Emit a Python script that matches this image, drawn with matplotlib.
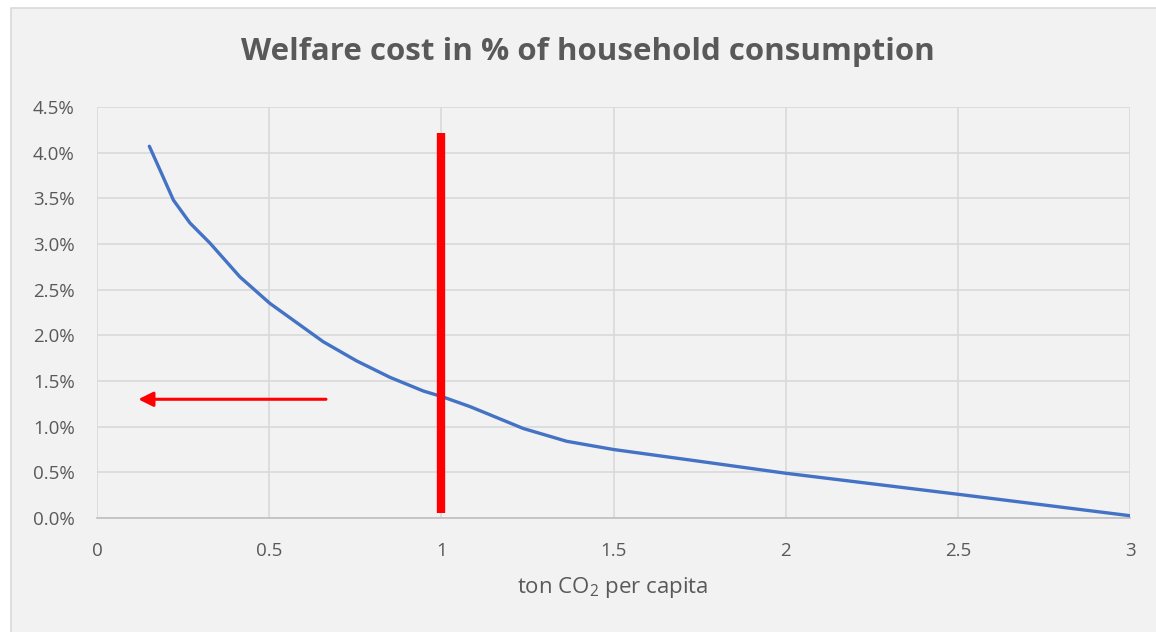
import matplotlib
matplotlib.use("Agg")
import matplotlib.pyplot as plt
from matplotlib.patches import Rectangle
from matplotlib.ticker import FuncFormatter, MultipleLocator

plt.rcParams["font.family"] = ["Open Sans", "DejaVu Sans"]
plt.rcParams["mathtext.fontset"] = "custom"
plt.rcParams["mathtext.rm"] = "Open Sans"

# welfare cost curve (ton CO2 per capita -> % of consumption)
co2 = [0.152, 0.183, 0.222, 0.270, 0.328, 0.415, 0.502, 0.563, 0.657, 0.754,
       0.851, 0.948, 1.001, 1.083, 1.122, 1.238, 1.364, 1.500, 1.751, 2.000,
       2.500, 3.000]
cost = [4.07, 3.81, 3.48, 3.23, 3.01, 2.64, 2.35, 2.185, 1.93, 1.72,
        1.54, 1.39, 1.33, 1.22, 1.16, 0.98, 0.84, 0.75, 0.62, 0.49,
        0.26, 0.025]

target_x = 1.0
target_span = (0.05, 4.22)
arrow_from = (0.665, 1.30)
arrow_to = (0.12, 1.30)

x_ticks = [0, 0.5, 1, 1.5, 2, 2.5, 3]
x_labels = ["0", "0.5", "1", "1.5", "2", "2.5", "3"]

grey_txt = "#595959"
bg = "#f2f2f2"

fig = plt.figure(figsize=(11.56, 6.32), dpi=100, facecolor="white")
frame = Rectangle((11 / 1156, -0.05), 1.1, 1 - 8 / 632 + 0.05,
                  transform=fig.transFigure, facecolor=bg,
                  edgecolor="#d9d9d9", lw=1.2, zorder=-5)
fig.add_artist(frame)

ax = fig.add_axes([97 / 1156, 1 - 518 / 632, (1130 - 97) / 1156, (518 - 107) / 632])
ax.set_facecolor(bg)

ax.plot(co2, cost, color="#4472C4", lw=2.4, solid_capstyle="round",
        solid_joinstyle="round", zorder=3)
ax.vlines(target_x, *target_span, color="#FF0000", lw=6, zorder=4)
ax.annotate("", xy=arrow_to, xytext=arrow_from,
            arrowprops=dict(arrowstyle="-|>", color="#FF0000", lw=2.2,
                            mutation_scale=22, shrinkA=0, shrinkB=0), zorder=4)

ax.set_xlim(0, 3)
ax.set_ylim(0, 4.5)
ax.set_xticks(x_ticks)
ax.set_xticklabels(x_labels)
ax.yaxis.set_major_locator(MultipleLocator(0.5))
ax.yaxis.set_major_formatter(FuncFormatter(lambda v, p: f"{v:.1f}%"))
ax.grid(True, color="#d9d9d9", lw=1.2)
ax.set_axisbelow(True)
for s in ["top", "right", "left"]:
    ax.spines[s].set_visible(False)
ax.spines["bottom"].set_color("#bfbfbf")
ax.spines["bottom"].set_linewidth(1.2)
ax.tick_params(length=0, labelsize=13.5, labelcolor=grey_txt)
ax.tick_params(axis="y", pad=16)
ax.tick_params(axis="x", pad=17)

fig.text(588 / 1156, 1 - 52 / 632, "Welfare cost in % of household consumption",
         ha="center", va="center", fontsize=22.5, fontweight="bold", color=grey_txt)
fig.text(613 / 1156, 1 - 588 / 632, r"ton CO$\mathregular{_2}$ per capita",
         ha="center", va="center", fontsize=16, color=grey_txt)

fig.savefig("out.png", dpi=100, facecolor=fig.get_facecolor())
